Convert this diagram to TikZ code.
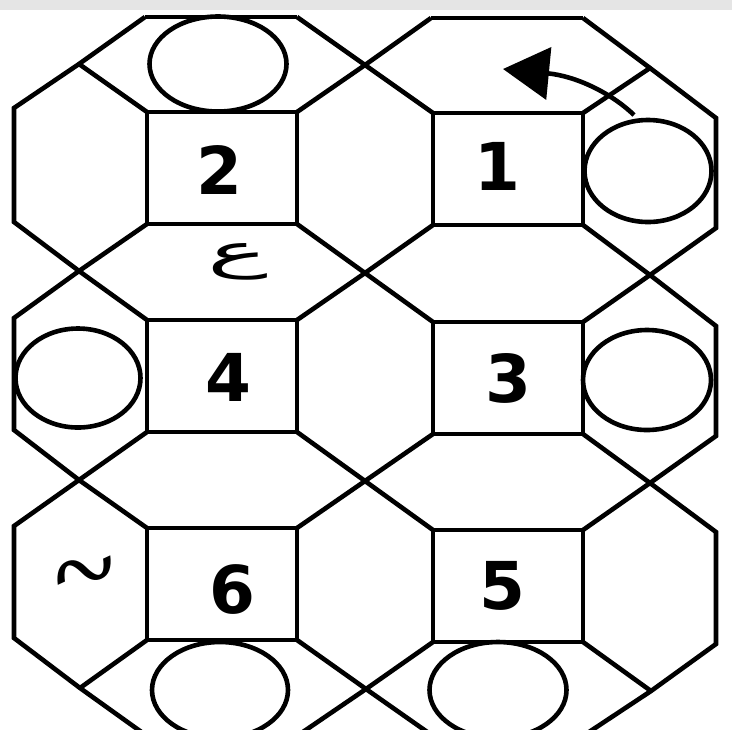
\documentclass[tikz,border=0pt]{standalone}
\usepackage{fontspec}
\usepackage{tikz}
\usetikzlibrary{arrows.meta,shapes.geometric}
\newfontfamily\digitfont{DejaVu Sans}
\newfontfamily\arabicfont[Script=Arabic]{DejaVu Sans}
\TeXXeTstate=1

\begin{document}
\begin{tikzpicture}[x=0.5pt, y=-0.5pt,
    face/.style={draw, line width=2.3pt, minimum width=75pt, minimum height=56pt,
      inner sep=0pt, outer sep=0pt},
    num/.style={font=\digitfont\bfseries\fontsize{33}{33}\selectfont, inner sep=0pt},
    ring/.style={draw, ellipse, line width=2.3pt, inner sep=0pt, outer sep=0pt},
    ln/.style={line width=2.3pt},
    arr/.style={-{Triangle[length=23pt, width=26pt]}, line width=2.3pt},
  ]
    \useasboundingbox (0,0) rectangle (732,729);
    \clip (0,0) rectangle (732,729);
    \fill[white] (0,0) rectangle (732,729);
    \fill[gray!20] (0,0) rectangle (732,10);

    % Faces
    \node[face] (s2) at (222,168) {};
    \node[face] (s1) at (508,169) {};
    \node[face] (s4) at (222,376) {};
    \node[face] (s3) at (508,378) {};
    \node[face] (s6) at (222,584) {};
    \node[face] (s5) at (508,586) {};

    % Crossings
    \coordinate (xL0) at (79,64);  \coordinate (xM0) at (365,65);  \coordinate (xR0) at (650,68);
    \coordinate (xL1) at (79,271); \coordinate (xM1) at (365,273); \coordinate (xR1) at (650,275);
    \coordinate (xL2) at (79,480); \coordinate (xM2) at (365,481); \coordinate (xR2) at (650,483);
    \coordinate (xL3) at (80,688); \coordinate (xM3) at (366,689); \coordinate (xR3) at (651,691);

    % Outer corners
    \coordinate (t2l) at (145,17); \coordinate (t2r) at (297,17);
    \coordinate (t1l) at (431,18); \coordinate (t1r) at (583,18);
    \coordinate (b6l) at (147,736); \coordinate (b6r) at (297,736);
    \coordinate (b5l) at (433,736); \coordinate (b5r) at (583,736);
    \coordinate (oL1) at (14,108); \coordinate (oL2) at (14,222);
    \coordinate (oL3) at (14,318); \coordinate (oL4) at (14,430);
    \coordinate (oL5) at (14,526); \coordinate (oL6) at (14,638);
    \coordinate (oR1) at (716,118); \coordinate (oR2) at (716,228);
    \coordinate (oR3) at (716,326); \coordinate (oR4) at (716,436);
    \coordinate (oR5) at (716,532); \coordinate (oR6) at (716,644);

    % Outline
    \draw[ln] (t2l) -- (t2r);
    \draw[ln] (t1l) -- (t1r);
    \draw[ln] (b6l) -- (b6r);
    \draw[ln] (b5l) -- (b5r);
    \draw[ln] (t2l) -- (xL0) -- (oL1) -- (oL2) -- (xL1) -- (oL3) -- (oL4)
      -- (xL2) -- (oL5) -- (oL6) -- (xL3) -- (b6l);
    \draw[ln] (t1r) -- (xR0) -- (oR1) -- (oR2) -- (xR1) -- (oR3) -- (oR4)
      -- (xR2) -- (oR5) -- (oR6) -- (xR3) -- (b5r);

    % Diagonals
    \draw[ln] (s2.north west) -- (xL0);
    \draw[ln] (s1.north east) -- (xR0);
    \draw[ln] (t2r) -- (xM0) -- (s1.north west);
    \draw[ln] (t1l) -- (xM0) -- (s2.north east);
    \draw[ln] (s2.south west) -- (xL1) -- (s4.north west);
    \draw[ln] (s2.south east) -- (xM1) -- (s3.north west);
    \draw[ln] (s1.south west) -- (xM1) -- (s4.north east);
    \draw[ln] (s1.south east) -- (xR1) -- (s3.north east);
    \draw[ln] (s4.south west) -- (xL2) -- (s6.north west);
    \draw[ln] (s4.south east) -- (xM2) -- (s5.north west);
    \draw[ln] (s3.south west) -- (xM2) -- (s6.north east);
    \draw[ln] (s3.south east) -- (xR2) -- (s5.north east);
    \draw[ln] (s6.south west) -- (xL3);
    \draw[ln] (s5.south east) -- (xR3);
    \draw[ln] (s6.south east) -- (xM3) -- (b5l);
    \draw[ln] (s5.south west) -- (xM3) -- (b6r);

    % Rings
    \node[ring, minimum width=68.5pt, minimum height=47.5pt] (c2) at (218,64) {};
    \node[ring, minimum width=63.5pt, minimum height=51pt] (c1) at (648,171) {};
    \node[ring, minimum width=62.5pt, minimum height=49.5pt] (c4) at (78,378) {};
    \node[ring, minimum width=64pt, minimum height=50pt] (c3) at (647,380) {};
    \node[ring, minimum width=68pt, minimum height=48pt] (c6) at (220,690) {};
    \node[ring, minimum width=68.5pt, minimum height=48pt] (c5) at (498,690) {};

    % Numbers
    \node[num] (n2) at (219,170) {2};
    \node[num] (n1) at (497,166) {1};
    \node[num] (n4) at (228,377) {4};
    \node[num] (n3) at (508,378) {3};
    \node[num] (n6) at (232,589) {6};
    \node[num] (n5) at (502,586) {5};

    % Marks
    \node[font=\arabicfont\fontsize{30}{30}\selectfont, xscale=1.7, yscale=0.8] (ain) at (238,262) {\beginR ع\endR};
    \node[font=\digitfont\fontsize{40}{40}\selectfont, rotate=25, xscale=1.2, yscale=0.7] (wave) at (85,572) {∿};

    % Turn arrow
    \coordinate (a0) at (634,115);
    \coordinate (a1) at (503,69);
    \draw[arr] (a0) .. controls (610,92) and (575,76) .. (a1);
  \end{tikzpicture}
\end{document}
